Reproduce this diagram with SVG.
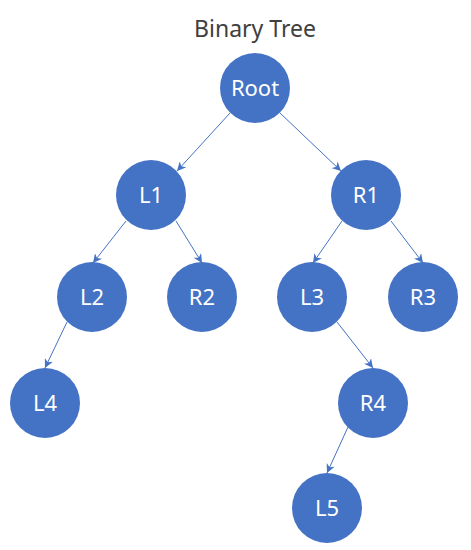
<svg xmlns="http://www.w3.org/2000/svg" width="471" height="550" viewBox="0 0 471 550">
<style>
.n{fill:#4472C4;}
.t{fill:#FFFFFF;font-family:"Noto Sans","Noto Sans CJK SC",sans-serif;font-size:22px;text-anchor:middle;}
.c{stroke:#4472C4;stroke-width:1;fill:none;marker-end:url(#a);}
.title{fill:#404040;font-family:"Noto Sans","Noto Sans CJK SC",sans-serif;font-size:23px;text-anchor:middle;}
</style>
<defs>
<marker id="a" viewBox="0 0 10 10" refX="10" refY="5" markerWidth="9" markerHeight="9" markerUnits="userSpaceOnUse" orient="auto">
<path d="M0,0 L10,5 L0,10 L3,5 Z" fill="#4472C4"/>
</marker>
</defs>
<rect width="471" height="550" fill="#FFFFFF"/>
<text class="title" x="255" y="37">Binary Tree</text>
<g id="connectors">
<line class="c" x1="230" y1="113" x2="177" y2="171"/>
<line class="c" x1="280" y1="113" x2="341" y2="171"/>
<line class="c" x1="126" y1="221" x2="93" y2="263"/>
<line class="c" x1="176" y1="221" x2="202" y2="263"/>
<line class="c" x1="342" y1="221" x2="313" y2="263"/>
<line class="c" x1="391" y1="221" x2="423" y2="263"/>
<line class="c" x1="67" y1="322" x2="45" y2="368"/>
<line class="c" x1="337" y1="322" x2="373" y2="368"/>
<line class="c" x1="348" y1="427" x2="327" y2="473"/>
</g>
<g id="root"><circle class="n" cx="255" cy="88" r="35"/><text class="t" x="255" y="96">Root</text></g>
<g id="L1"><circle class="n" cx="151" cy="195" r="35"/><text class="t" x="151" y="203">L1</text></g>
<g id="R1"><circle class="n" cx="366" cy="195" r="35"/><text class="t" x="366" y="203">R1</text></g>
<g id="L2"><circle class="n" cx="92" cy="297" r="35"/><text class="t" x="92" y="305">L2</text></g>
<g id="R2"><circle class="n" cx="202" cy="297" r="35"/><text class="t" x="202" y="305">R2</text></g>
<g id="L3"><circle class="n" cx="312" cy="297" r="35"/><text class="t" x="312" y="305">L3</text></g>
<g id="R3"><circle class="n" cx="423" cy="297" r="35"/><text class="t" x="423" y="305">R3</text></g>
<g id="L4"><circle class="n" cx="45" cy="403" r="35"/><text class="t" x="45" y="411">L4</text></g>
<g id="R4"><circle class="n" cx="373" cy="403" r="35"/><text class="t" x="373" y="411">R4</text></g>
<g id="L5"><circle class="n" cx="327" cy="508" r="35"/><text class="t" x="327" y="516">L5</text></g>
</svg>
